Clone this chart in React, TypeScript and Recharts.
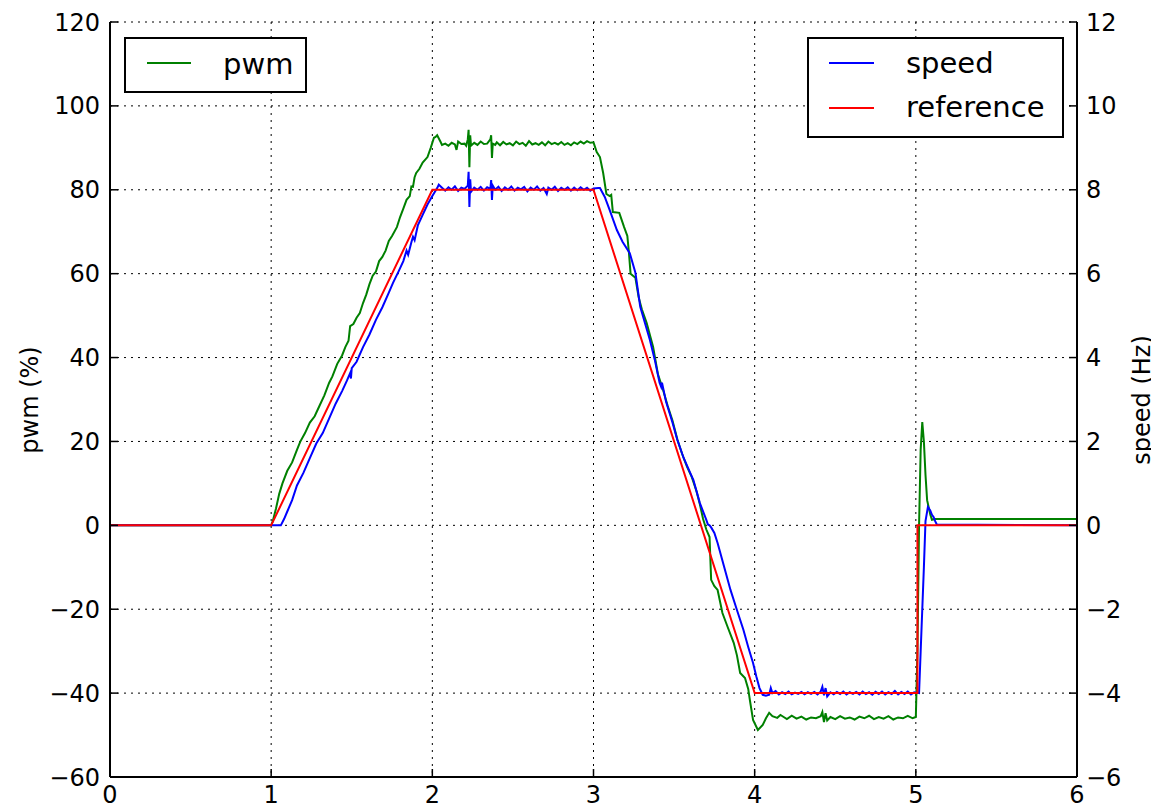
import React from 'react';
import { LineChart, Line, XAxis, YAxis, CartesianGrid } from 'recharts';

const xTicks = [0, 1, 2, 3, 4, 5, 6];
const pwmTicks = [-60, -40, -20, 0, 20, 40, 60, 80, 100, 120];
const speedTicks = [-6, -4, -2, 0, 2, 4, 6, 8, 10, 12];

const pwmTime = [
  0, 1.0, 1.01, 1.03, 1.05, 1.07, 1.1, 1.13, 1.16, 1.18, 1.21, 1.24, 1.27, 1.3, 1.33, 1.36, 1.38, 1.41, 1.44, 1.46,
  1.48, 1.49, 1.51, 1.53, 1.55, 1.57, 1.59, 1.61, 1.63, 1.65, 1.67, 1.69, 1.71, 1.73, 1.75, 1.78, 1.8, 1.82, 1.84, 1.86,
  1.87, 1.88, 1.89, 1.9, 1.92, 1.94, 1.97, 1.99, 2.01, 2.02, 2.03, 2.05, 2.06, 2.08, 2.1, 2.12, 2.14, 2.15, 2.16, 2.18,
  2.2, 2.21, 2.22, 2.225, 2.23, 2.235, 2.24, 2.26, 2.28, 2.3, 2.32, 2.34, 2.36, 2.365, 2.37, 2.375, 2.39, 2.4, 2.42, 2.44,
  2.46, 2.48, 2.5, 2.52, 2.54, 2.56, 2.58, 2.6, 2.62, 2.64, 2.66, 2.68, 2.7, 2.72, 2.74, 2.76, 2.78, 2.8, 2.82, 2.84,
  2.86, 2.88, 2.9, 2.92, 2.94, 2.96, 2.98, 3.0, 3.02, 3.04, 3.06, 3.08, 3.1, 3.11, 3.12, 3.16, 3.19, 3.21, 3.22, 3.23,
  3.26, 3.28, 3.3, 3.33, 3.37, 3.4, 3.43, 3.46, 3.49, 3.52, 3.55, 3.58, 3.61, 3.64, 3.66, 3.68, 3.7, 3.72, 3.73, 3.75,
  3.77, 3.8, 3.83, 3.87, 3.89, 3.91, 3.94, 3.96, 3.97, 3.99, 4.02, 4.05, 4.07, 4.09, 4.11, 4.14, 4.16, 4.18, 4.2, 4.23,
  4.26, 4.29, 4.32, 4.35, 4.38, 4.41, 4.42, 4.43, 4.44, 4.45, 4.47, 4.5, 4.53, 4.56, 4.59, 4.62, 4.65, 4.68, 4.71, 4.74,
  4.77, 4.8, 4.83, 4.86, 4.89, 4.92, 4.95, 4.98, 5.0, 5.01, 5.02, 5.03, 5.04, 5.05, 5.06, 5.07, 5.09, 5.1, 5.12, 6.0,
];
const pwmValue = [
  0, 0, 1, 4, 7.5, 10, 13, 15, 18, 19.9, 22, 24.5, 26, 28.5, 31, 34, 35.5, 38.5, 40.5, 42.5,
  44, 47.5, 48, 49.5, 50.6, 53, 55, 57.5, 59.5, 60.5, 63, 64, 65.5, 67.8, 69, 71.1, 73.5, 75.5, 77.6, 78.5,
  80.8, 80.7, 83, 84, 85, 86.5, 87.8, 90, 92.4, 92.6, 93, 91.5, 90.7, 91, 90.5, 91.2, 90.8, 89.5, 91.5, 90.9,
  91, 90.5, 92, 94.3, 85.4, 93, 90.5, 91.2, 90.7, 91.5, 90.9, 91, 92, 93, 87.6, 91, 90.7, 91.3, 90.6, 91.4,
  90.8, 91.1, 90.6, 91.5, 90.9, 91.2, 90.5, 91.6, 90.8, 91.1, 90.7, 91.3, 90.6, 91.5, 90.9, 91.2, 90.8, 91.4, 90.7, 91.1,
  90.6, 91.3, 90.9, 91.5, 91, 91.6, 91.2, 91.3, 89, 87.8, 84, 79, 78.5, 78.8, 74.7, 74.5, 71.1, 69, 64.9, 60,
  59, 54.4, 51.5, 48.2, 42.5, 36, 32.5, 28.5, 25, 20.5, 17, 14, 11.5, 8, 5, 1.5, -1, -2.8, -13, -14.5,
  -15.4, -20.9, -24, -28, -31, -35.2, -36.4, -39, -41.6, -46.4, -48.8, -47.6, -46, -44.7, -45.5, -45.9, -45.2, -45.7, -46.2, -45.4,
  -46.1, -45.6, -46.3, -45.8, -46, -45.5, -44.5, -46.9, -44.8, -46.5, -45.7, -46.2, -45.5, -46.1, -45.8, -46.3, -45.6, -46, -45.4, -46.2,
  -45.7, -46.1, -45.5, -46.3, -45.8, -46, -45.4, -46, -45.7, -30, 0, 18, 24.6, 20, 12, 6, 2.5, 1.3, 1.5, 1.5,
];

const speedTime = [
  0, 1.06, 1.08, 1.1, 1.13, 1.16, 1.2, 1.24, 1.28, 1.32, 1.36, 1.4, 1.44, 1.47, 1.49, 1.495, 1.5, 1.53, 1.57, 1.61,
  1.65, 1.69, 1.73, 1.756, 1.79, 1.82, 1.84, 1.85, 1.87, 1.88, 1.89, 1.91, 1.94, 1.97, 2.0, 2.03, 2.04, 2.06, 2.08, 2.1,
  2.12, 2.14, 2.16, 2.18, 2.2, 2.22, 2.225, 2.23, 2.235, 2.24, 2.26, 2.28, 2.3, 2.32, 2.34, 2.36, 2.365, 2.37, 2.375, 2.39,
  2.41, 2.43, 2.45, 2.47, 2.49, 2.51, 2.53, 2.55, 2.57, 2.59, 2.61, 2.63, 2.65, 2.67, 2.69, 2.71, 2.72, 2.74, 2.76, 2.78,
  2.8, 2.82, 2.84, 2.86, 2.88, 2.9, 2.92, 2.94, 2.96, 2.98, 3.0, 3.03, 3.04, 3.07, 3.1, 3.145, 3.18, 3.225, 3.26, 3.29,
  3.35, 3.38, 3.41, 3.42, 3.425, 3.45, 3.49, 3.52, 3.56, 3.6, 3.62, 3.66, 3.7, 3.71, 3.72, 3.73, 3.75, 3.77, 3.81, 3.85,
  3.89, 3.93, 3.96, 3.99, 4.01, 4.03, 4.05, 4.07, 4.09, 4.1, 4.11, 4.13, 4.15, 4.17, 4.19, 4.21, 4.23, 4.25, 4.27, 4.29,
  4.31, 4.33, 4.35, 4.37, 4.39, 4.41, 4.42, 4.43, 4.44, 4.45, 4.47, 4.49, 4.51, 4.53, 4.55, 4.57, 4.59, 4.61, 4.63, 4.65,
  4.67, 4.69, 4.71, 4.73, 4.75, 4.77, 4.79, 4.81, 4.83, 4.85, 4.87, 4.89, 4.91, 4.93, 4.95, 4.97, 4.99, 5.02, 5.03, 5.05,
  5.06, 5.075, 5.09, 5.1, 5.11, 5.12, 5.13, 6.0,
];
const speedValue = [
  0, 0, 0.15, 0.33, 0.6, 0.95, 1.25, 1.6, 1.95, 2.2, 2.55, 2.9, 3.2, 3.45, 3.63, 3.5, 3.75, 3.9, 4.25, 4.55,
  4.9, 5.2, 5.55, 5.78, 6.05, 6.3, 6.55, 6.45, 6.75, 6.88, 6.8, 7.15, 7.4, 7.65, 7.85, 8.04, 8.12, 8.05, 7.98, 8.06,
  8.0, 8.08, 7.97, 8.05, 8.02, 8.1, 8.43, 7.59, 8.25, 7.95, 8.05, 8.0, 8.07, 7.98, 8.06, 8.02, 8.23, 7.76, 8.1, 8.0,
  8.07, 7.97, 8.06, 8.0, 8.08, 7.98, 8.05, 8.01, 8.07, 7.96, 8.05, 8.0, 8.08, 7.98, 8.04, 7.9, 8.05, 8.0, 8.07, 7.97,
  8.05, 8.0, 8.06, 7.98, 8.05, 7.99, 8.06, 8.0, 8.05, 7.98, 8.03, 8.04, 8.04, 7.83, 7.52, 7.04, 6.76, 6.49, 6.02, 5.21,
  4.42, 3.95, 3.4, 3.3, 3.4, 2.95, 2.45, 2.04, 1.6, 1.25, 1.08, 0.53, 0.13, 0.02, 0.0, -0.05, -0.18, -0.42, -0.98, -1.54,
  -2.02, -2.49, -2.9, -3.28, -3.6, -3.88, -4.04, -4.06, -4.04, -3.88, -4.0, -3.95, -4.03, -3.98, -4.02, -3.96, -4.03, -3.99, -4.02, -3.97,
  -4.03, -3.98, -4.02, -3.97, -4.03, -3.96, -3.85, -4.05, -3.88, -4.08, -3.98, -4.03, -3.97, -4.02, -3.96, -4.03, -3.98, -4.02, -3.97, -4.03,
  -3.96, -4.02, -3.98, -4.04, -3.97, -4.02, -3.96, -4.03, -3.98, -4.02, -3.95, -4.03, -3.97, -4.02, -3.96, -4.03, -3.98, -4.0, -3.0, -1.0,
  0.1, 0.44, 0.35, 0.25, 0.2, 0.1, 0.02, 0,
];

const refTime = [0, 1, 2, 3, 4, 5.01, 5.01, 6];
const refValue = [0, 0, 8, 8, -4, -4, 0, 0];

const pwmData = pwmTime.map((t, i) => ({ t, v: pwmValue[i] }));
const speedData = speedTime.map((t, i) => ({ t, v: speedValue[i] }));
const refData = refTime.map((t, i) => ({ t, v: refValue[i] }));

const FONT = '"DejaVu Sans", sans-serif';
const minus = (v: number) => String(v).replace('-', '\u2212');
const tickStyle = { fill: '#000', fontSize: 24, fontFamily: FONT };

export default function App() {
  return (
    <div style={{ position: 'relative', width: 1151, height: 802 }}>
      <LineChart width={1151} height={802} margin={{ top: 14, right: 0, left: 0, bottom: 0 }}>
        <CartesianGrid xAxisId="x" yAxisId="left" stroke="#000" strokeWidth={1} strokeDasharray="2 5"
          horizontalValues={pwmTicks} verticalValues={xTicks} />
        <XAxis xAxisId="x" dataKey="t" type="number" domain={[0, 6]} ticks={xTicks} allowDataOverflow
          height={33} tickSize={-8} tickMargin={17} tick={tickStyle}
          axisLine={{ stroke: '#000', strokeWidth: 2 }} tickLine={{ stroke: '#000', strokeWidth: 1.5 }} />
        <XAxis xAxisId="top" orientation="top" dataKey="t" type="number" domain={[0, 6]} ticks={xTicks} allowDataOverflow
          height={0} tickSize={-8} tickFormatter={() => ''}
          axisLine={{ stroke: '#000', strokeWidth: 2 }} tickLine={{ stroke: '#000', strokeWidth: 1.5 }} />
        <YAxis yAxisId="left" orientation="left" type="number" domain={[-60, 120]} ticks={pwmTicks} allowDataOverflow
          width={102} tickSize={-8} tickMargin={18} tick={tickStyle} tickFormatter={minus}
          axisLine={{ stroke: '#000', strokeWidth: 2 }} tickLine={{ stroke: '#000', strokeWidth: 1.5 }} />
        <YAxis yAxisId="right" orientation="right" type="number" domain={[-6, 12]} ticks={speedTicks} allowDataOverflow
          width={82} tickSize={-8} tickMargin={17} tick={tickStyle} tickFormatter={minus}
          axisLine={{ stroke: '#000', strokeWidth: 2 }} tickLine={{ stroke: '#000', strokeWidth: 1.5 }} />
        <Line xAxisId="x" yAxisId="left" data={pwmData} dataKey="v" type="linear" stroke="#008000" strokeWidth={2}
          dot={false} isAnimationActive={false} name="pwm" />
        <Line xAxisId="x" yAxisId="right" data={speedData} dataKey="v" type="linear" stroke="#0000ff" strokeWidth={2}
          dot={false} isAnimationActive={false} name="speed" />
        <Line xAxisId="x" yAxisId="right" data={refData} dataKey="v" type="linear" stroke="#ff0000" strokeWidth={2}
          dot={false} isAnimationActive={false} name="reference" />
      </LineChart>
      <svg width={1151} height={802} style={{ position: 'absolute', left: 0, top: 0, pointerEvents: 'none' }}>
        <g fontFamily={FONT} fill="#000">
          <text transform="translate(22,392) rotate(-90)" textAnchor="middle" dy="0.35em" fontSize={24}>pwm (%)</text>
          <text transform="translate(1134,392) rotate(-90)" textAnchor="middle" dy="0.35em" fontSize={24}>speed (Hz)</text>
        </g>
        <g transform="translate(117,30)">
          <rect x={0} y={0} width={181} height={54} fill="#fff" stroke="#000" strokeWidth={2} />
          <line x1={22} x2={66} y1={25} y2={25} stroke="#008000" strokeWidth={2} />
          <text x={98} y={36} fontSize={29} fontFamily={FONT} fill="#000">pwm</text>
        </g>
        <g transform="translate(800,30)">
          <rect x={0} y={0} width={255} height={99} fill="#fff" stroke="#000" strokeWidth={2} />
          <line x1={21} x2={66} y1={25} y2={25} stroke="#0000ff" strokeWidth={2} />
          <text x={98} y={35} fontSize={29} fontFamily={FONT} fill="#000">speed</text>
          <line x1={21} x2={66} y1={70} y2={70} stroke="#ff0000" strokeWidth={2} />
          <text x={98} y={79} fontSize={29} fontFamily={FONT} fill="#000">reference</text>
        </g>
      </svg>
    </div>
  );
}
